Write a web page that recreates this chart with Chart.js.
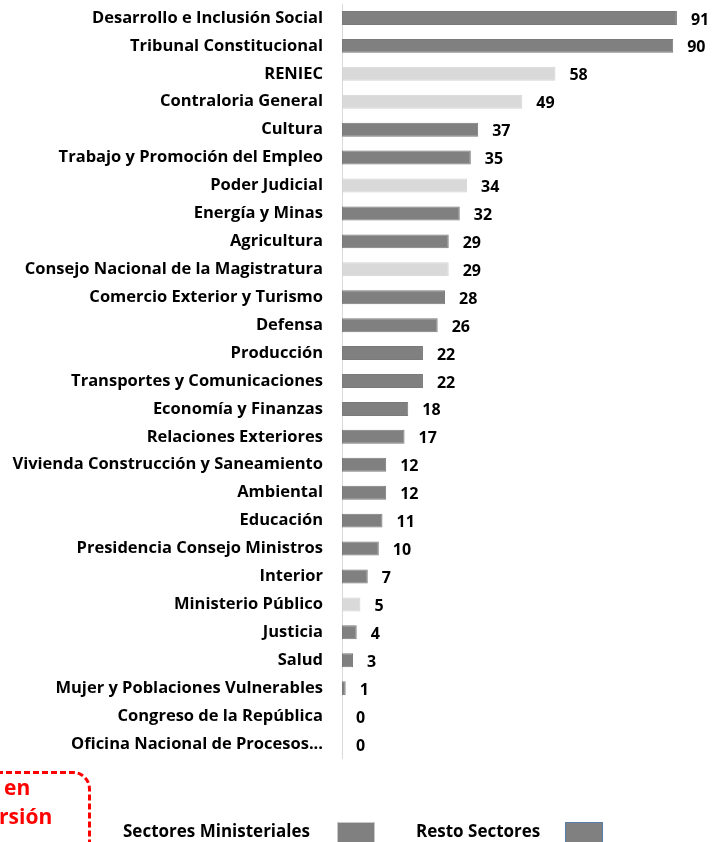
<!DOCTYPE html>
<html>
<head>
<meta charset="utf-8">
<script src="https://cdn.jsdelivr.net/npm/chart.js@4"></script>
<style>
  html, body { margin: 0; padding: 0; background: #fff; }
  body { width: 712px; height: 842px; position: relative; overflow: hidden; font-family: "Open Sans", Roboto, sans-serif; }
  #wrap { position: absolute; left: 0; top: 0; width: 712px; height: 842px; }
  .legText { position: absolute; font-weight: bold; font-size: 17px; color: #000; line-height: 20px; }
  .legBox { position: absolute; width: 38px; height: 22px; background: #808080; box-sizing: border-box; }
  #note { position: absolute; left: -130px; top: 771px; width: 221px; height: 120px; border: 3px dashed #ff0000; border-radius: 0 18px 0 0; box-sizing: border-box; }
  .noteText { position: absolute; color: #ff0000; font-weight: bold; font-size: 21px; line-height: 26px; }
</style>
</head>
<body>
<div id="wrap"><canvas id="barChart" width="712" height="842"></canvas></div>

<div id="note"></div>
<div class="noteText" style="left:4px; top:774px;">en</div>
<div class="noteText" style="left:-1px; top:803px;">rsión</div>

<div class="legText" style="left:123px; top:821px;">Sectores Ministeriales</div>
<div class="legBox" style="left:337px; top:822px; border:1px solid #c8c8c8;"></div>
<div class="legText" style="left:416px; top:821px;">Resto Sectores</div>
<div class="legBox" style="left:565px; top:822px; border:1px solid #5a7cab;"></div>

<script>
// Sectors, values and group (M = ministerial-coloured, R = resto)
const sectores = [
    "Desarrollo e Inclusión Social", "Tribunal Constitucional", "RENIEC", "Contraloria General",
    "Cultura", "Trabajo y Promoción del Empleo", "Poder Judicial", "Energía y Minas",
    "Agricultura", "Consejo Nacional de la Magistratura", "Comercio Exterior y Turismo", "Defensa",
    "Producción", "Transportes y Comunicaciones", "Economía y Finanzas", "Relaciones Exteriores",
    "Vivienda Construcción y Saneamiento", "Ambiental", "Educación", "Presidencia Consejo Ministros",
    "Interior", "Ministerio Público", "Justicia", "Salud",
    "Mujer y Poblaciones Vulnerables", "Congreso de la República", "Oficina Nacional de Procesos..."
];
const valores = [91, 90, 58, 49, 37, 35, 34, 32, 29, 29, 28, 26, 22, 22, 18, 17, 12, 12, 11, 10, 7, 5, 4, 3, 1, 0, 0];
const grupo = ["M", "M", "R", "R", "M", "M", "R", "M", "M", "R", "M", "M", "M", "M", "M", "M",
               "M", "M", "M", "M", "M", "R", "M", "M", "M", "R", "R"];

const colorMin = "#808080";
const colorResto = "#d9d9d9";
const fontFam = "'Open Sans', Roboto, sans-serif";

// value labels to the right of each bar
const valueLabels = {
    id: "valueLabels",
    afterDatasetsDraw(chart) {
        const ctx = chart.ctx;
        const meta = chart.getDatasetMeta(0);
        ctx.save();
        ctx.font = "bold 16px " + fontFam;
        ctx.fillStyle = "#000";
        ctx.textAlign = "left";
        ctx.textBaseline = "middle";
        meta.data.forEach((bar, i) => {
            ctx.fillText(valores[i], bar.x + 14, bar.y + 2);
        });
        ctx.restore();
    }
};

const ctx = document.getElementById("barChart").getContext("2d");

const chart = new Chart(ctx, {
    type: "bar",
    data: {
        labels: sectores,
        datasets: [{
            data: valores,
            backgroundColor: grupo.map(g => g === "M" ? colorMin : colorResto),
            borderColor: grupo.map(g => g === "M" ? "#7a7a7a" : "#d4d4d4"),
            borderWidth: 1,
            borderSkipped: false,
            barPercentage: 0.5,
            categoryPercentage: 1
        }]
    },
    options: {
        indexAxis: "y",
        responsive: false,
        animation: false,
        layout: { padding: { top: 4, bottom: 84, left: 0, right: 2 } },
        plugins: {
            legend: { display: false },
            tooltip: { enabled: false }
        },
        scales: {
            x: { display: false, min: 0, max: 100 },
            y: {
                grid: { display: false, drawTicks: false },
                border: { display: true, color: "#d9d9d9", width: 1 },
                ticks: {
                    color: "#000",
                    padding: 19,
                    autoSkip: false,
                    font: { family: fontFam, size: 16.5, weight: "bold" }
                },
                afterFit: scale => {
                    scale.width = 342;
                    scale.paddingTop = 0;
                    scale.paddingBottom = 0;
                }
            }
        }
    },
    plugins: [valueLabels]
});
</script>
</body>
</html>
